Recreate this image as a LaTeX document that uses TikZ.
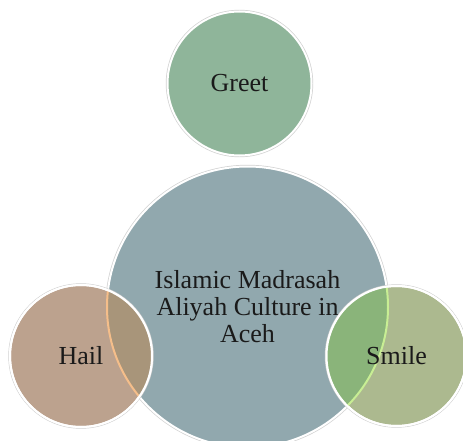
\documentclass[tikz,border=0pt]{standalone}
\usepackage{fontspec}
\setmainfont{Liberation Serif}
\usetikzlibrary{positioning}
\definecolor{GSage}{HTML}{8FB59A}
\definecolor{CSlate}{HTML}{91A8AE}
\definecolor{HClay}{HTML}{BCA28E}
\definecolor{SOlive}{HTML}{ACB98F}
\definecolor{HMix}{HTML}{A8957A}
\definecolor{SMix}{HTML}{8AB47A}
\definecolor{HEdge}{HTML}{F5BE8A}
\definecolor{SEdge}{HTML}{C8EE94}
\definecolor{InkText}{HTML}{1A1A1A}

\begin{document}
\begin{tikzpicture}[x=1pt, y=-1pt,
    petal/.style={circle, inner sep=0pt, draw=white, line width=2pt,
        preaction={draw=black!18, line width=3.4pt}},
    rim/.style={draw=white, line width=2pt},
    word/.style={text=InkText, font=\fontsize{26}{27}\selectfont, align=center, inner sep=0pt}]
        \path[use as bounding box, clip] (0,0) rectangle (463,441);
        % circles
        \node[petal, fill=CSlate, minimum size=281pt] (culture) at (247.5,307) {};
        \node[petal, fill=GSage, minimum size=144pt] (greet) at (239.5,83.5) {};
        \node[petal, fill=HClay, minimum size=142pt] (hail) at (81,356) {};
        \node[petal, fill=SOlive, minimum size=140pt] (smile) at (396.5,356) {};
        % overlaps with the big circle
        \begin{scope}
            \clip (hail.center) circle[radius=71pt];
            \fill[HMix] (culture.center) circle[radius=140.5pt];
            \draw[HEdge, line width=2pt] (culture.center) circle[radius=140.5pt];
        \end{scope}
        \begin{scope}
            \clip (smile.center) circle[radius=70pt];
            \fill[SMix] (culture.center) circle[radius=140.5pt];
            \draw[SEdge, line width=2pt] (culture.center) circle[radius=140.5pt];
        \end{scope}
        \draw[rim] (hail.center) circle[radius=71pt];
        \draw[rim] (smile.center) circle[radius=70pt];
        % labels
        \node[word] (greettext) at (greet) {Greet};
        \node[word] (culturetext) at (culture) {Islamic Madrasah\\Aliyah Culture in\\Aceh};
        \node[word] (hailtext) at (hail) {Hail};
        \node[word] (smiletext) at (smile) {Smile};
\end{tikzpicture}
\end{document}
